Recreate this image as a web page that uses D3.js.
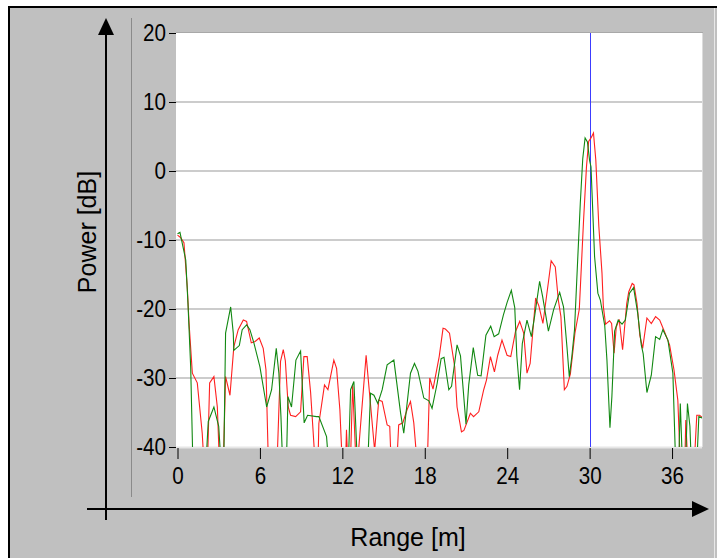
<!DOCTYPE html>
<html>
<head>
<meta charset="utf-8">
<script src="https://cdn.jsdelivr.net/npm/d3@7"></script>
<style>
  body { margin: 0; background: #ffffff; }
  svg { display: block; }
  text { font-family: Arial, "Liberation Sans", sans-serif; fill: #000; }
</style>
</head>
<body>
<div id="chart"></div>
<script>
// Range [m] ticks and Power [dB] ticks
var xTicks = [0, 6, 12, 18, 24, 30, 36]
var yTicks = [20, 10, 0, -10, -20, -30, -40]
var markerRange = 30

// green trace, [range m, power dB] (values below -40 are clipped off the plot)
var greenTrace = [
  [0, -9.1], [0.18, -8.9], [0.6, -12.9], [0.76, -19.1], [0.96, -28.4], [1.15, -45], [2.0, -45],
  [2.24, -36.3], [2.65, -34.2], [3.0, -37], [3.25, -45], [3.35, -45], [3.5, -23.5], [3.87, -19.7],
  [4.06, -23.5], [4.1, -26], [4.5, -25.3], [4.71, -23], [5.03, -22.3], [5.27, -23], [5.56, -24.9],
  [6.0, -28.4], [6.49, -34.2], [6.85, -31.7], [7.19, -25.7], [7.38, -29.3], [7.53, -35.6], [7.7, -45],
  [7.9, -45], [8.04, -32.7], [8.3, -34.2], [8.62, -27.4], [8.96, -26.1], [9.22, -36.5], [9.47, -35.4],
  [10.12, -35.6], [10.29, -35.6], [10.85, -38.5], [11.1, -45], [12.4, -45], [12.6, -31.7], [12.84, -30.5],
  [13.15, -45], [13.8, -45], [14.05, -32.2], [14.3, -32.5], [14.58, -33.7], [14.9, -31.7], [15.26, -28.1],
  [15.75, -27.4], [16.24, -35.1], [16.47, -38], [16.96, -29.3], [17.25, -27.9], [17.5, -29], [17.93, -32.9],
  [18.3, -33.3], [18.53, -34.4], [18.9, -30.8], [19.19, -27.2], [19.4, -27], [19.75, -31.7], [19.95, -31.2],
  [20.35, -25.2], [20.6, -26.8], [21.0, -36.7], [21.2, -31], [21.53, -25.6], [21.85, -29.6], [22.1, -29.7],
  [22.45, -23.8], [22.8, -22.5], [23.05, -24], [23.38, -23.6], [23.72, -20.9], [24.0, -19], [24.3, -17.3],
  [24.55, -19.8], [24.7, -26.8], [24.9, -31.7], [25.1, -25], [25.44, -21.6], [25.76, -24], [26.0, -21],
  [26.36, -16], [26.58, -18.2], [27.0, -23.2], [27.38, -20.1], [27.82, -17.6], [28.1, -19.7], [28.35, -25.5],
  [28.52, -29.8], [28.7, -27], [28.9, -23], [29.13, -12.9], [29.32, -4.7], [29.5, 1.8], [29.67, 4.8],
  [29.84, 4.2], [30.0, 1.5], [30.1, 0.6], [30.36, -12.4], [30.6, -17.7], [30.78, -18.7], [31.1, -22.4],
  [31.26, -27.4], [31.48, -37.2], [31.62, -32.7], [31.82, -23.2], [32.08, -21.6], [32.36, -22.2], [32.6, -21.6],
  [32.9, -17.7], [33.2, -16.9], [33.5, -20.6], [33.76, -25.2], [33.9, -26.5], [34.17, -32.1], [34.49, -29.6],
  [34.8, -24], [35.1, -24.4], [35.33, -23], [35.7, -24.5], [36.06, -29.3], [36.3, -45], [36.45, -45],
  [36.6, -33.7], [36.8, -45], [36.95, -45], [37.12, -33.7], [37.3, -37], [37.45, -45], [37.75, -45],
  [37.95, -35.6], [38.2, -35.8]
]

// red trace, [range m, power dB]
var redTrace = [
  [0, -9.3], [0.2, -9.6], [0.47, -10.4], [0.71, -16.8], [0.84, -22], [1.08, -29.3], [1.44, -30.7],
  [1.8, -38], [2.0, -45], [2.15, -45], [2.34, -30.7], [2.65, -29.8], [2.9, -34.2], [3.1, -45], [3.3, -45],
  [3.5, -29.8], [3.82, -32.5], [4.1, -25.5], [4.42, -23], [4.79, -21.6], [5.03, -21.8], [5.37, -24.9],
  [5.65, -24.7], [5.95, -24.2], [6.24, -25.7], [6.44, -28.8], [6.65, -45], [7.2, -45], [7.5, -27.6],
  [7.7, -25.9], [7.85, -27.5], [8.06, -34.2], [8.23, -35.4], [8.6, -35.6], [8.96, -34.9], [9.2, -26.9],
  [9.44, -26.9], [9.69, -32.1], [9.88, -38], [10.1, -45], [10.2, -45], [10.29, -36.6], [10.7, -31],
  [10.95, -31.7], [11.38, -27.4], [11.58, -28.6], [11.82, -34.6], [12.05, -45], [12.2, -45], [12.3, -37.5],
  [12.45, -45], [12.55, -45], [12.75, -31], [13.05, -45], [13.2, -40], [13.73, -26.7], [14.35, -40.5],
  [14.65, -33.2], [14.9, -33.4], [15.26, -36.8], [15.45, -37], [15.6, -45], [15.9, -45], [16.1, -36.8],
  [16.4, -36.5], [16.71, -34.6], [16.96, -33.4], [17.2, -36.5], [17.55, -45], [18.15, -45], [18.36, -30],
  [18.6, -31.6], [19.05, -26.9], [19.33, -22.8], [19.5, -22.9], [19.8, -23.5], [20.18, -28.4], [20.35, -34.2],
  [20.67, -37.8], [20.85, -37.6], [21.32, -35.1], [21.55, -35.6], [21.93, -34.9], [22.29, -31.7], [22.49, -30.3],
  [22.78, -26.9], [23.07, -29.1], [23.31, -26.7], [23.62, -24.5], [23.99, -26.7], [24.26, -26.9], [24.6, -23.3],
  [24.91, -21.8], [25.2, -23.5], [25.44, -29.3], [25.67, -27.9], [26.07, -18.4], [26.3, -19.5], [26.6, -22.1],
  [27.02, -15.8], [27.2, -13], [27.5, -13.9], [27.72, -18.7], [27.91, -21.1], [28.16, -31.7], [28.35, -31.2],
  [28.6, -29.4], [28.93, -23.5], [29.25, -20], [29.56, -7.1], [29.77, 0.6], [29.93, 4.3], [30.1, 4.8],
  [30.28, 5.5], [30.45, 1.6], [30.67, -8], [30.9, -14.8], [31.0, -19.7], [31.16, -22.2], [31.45, -21.7],
  [31.6, -22.1], [31.78, -26.4], [31.94, -22.6], [32.15, -21.5], [32.4, -25.9], [32.7, -19.2], [32.85, -17.5],
  [33.1, -16.3], [33.23, -16.5], [33.45, -19.2], [33.65, -23.8], [33.86, -25.7], [34.17, -21.3], [34.49, -22.1],
  [34.8, -21.1], [35.1, -21.6], [35.45, -23.3], [35.82, -25.2], [36.14, -28.8], [36.42, -33.2], [36.65, -45],
  [36.9, -45], [37.0, -36.1], [37.2, -45], [37.55, -45], [37.8, -35.4], [38.0, -35.4], [38.2, -35.7]
]

var W = 717, H = 558
var plot = { left: 176, right: 702, top: 33, bottom: 447 }
var narrow = 0.86   // tick font is a condensed face

var svg = d3.select("#chart").append("svg")
  .attr("width", W)
  .attr("height", H)

// window frame
svg.append("rect")
  .attr("x", 9).attr("y", 8)
  .attr("width", W - 9).attr("height", H - 8)
  .attr("fill", "#c0c0c0")
svg.append("line").attr("x1", 8).attr("x2", W).attr("y1", 7).attr("y2", 7)
  .attr("stroke", "#000").attr("stroke-width", 2)
svg.append("line").attr("x1", 9).attr("x2", 9).attr("y1", 6).attr("y2", H)
  .attr("stroke", "#000").attr("stroke-width", 2)
svg.append("line").attr("x1", 714.5).attr("x2", 714.5).attr("y1", 8).attr("y2", H)
  .attr("stroke", "#e8e8e8").attr("stroke-width", 1)

var x = d3.scaleLinear()
  .domain([0, 38.18])
  .range([177.5, plot.right])

var y = d3.scaleLinear()
  .domain([-40, 20])
  .range([plot.bottom, plot.top])

// plot background
svg.append("rect")
  .attr("x", plot.left).attr("y", plot.top)
  .attr("width", plot.right - plot.left).attr("height", plot.bottom - plot.top)
  .attr("fill", "#fff")
svg.append("line").attr("x1", plot.left).attr("x2", plot.right + 1)
  .attr("y1", plot.top - 0.5).attr("y2", plot.top - 0.5)
  .attr("stroke", "#a8a8a8")
svg.append("line").attr("x1", plot.right + 0.5).attr("x2", plot.right + 0.5)
  .attr("y1", plot.top).attr("y2", plot.bottom)
  .attr("stroke", "#dcdcdc")

// grid
svg.append("g").selectAll("line")
  .data(yTicks.filter(function(d) { return d > -40 && d < 20 }))
  .enter().append("line")
  .attr("x1", plot.left).attr("x2", plot.right)
  .attr("y1", function(d) { return y(d) }).attr("y2", function(d) { return y(d) })
  .attr("stroke", "#cccccc").attr("stroke-width", 2)
svg.append("line").attr("x1", plot.left).attr("x2", plot.right)
  .attr("y1", plot.bottom + 0.5).attr("y2", plot.bottom + 0.5)
  .attr("stroke", "#e6e6e6").attr("stroke-width", 2)

// clip for traces
svg.append("clipPath").attr("id", "clip")
  .append("rect")
  .attr("x", plot.left).attr("y", plot.top)
  .attr("width", plot.right - plot.left).attr("height", plot.bottom - plot.top)

var line = d3.line()
  .x(function(d) { return x(d[0]) })
  .y(function(d) { return y(d[1]) })

var traces = svg.append("g").attr("clip-path", "url(#clip)")

// marker line, snapped to the pixel grid
var markerX = Math.round(x(markerRange)) + 0.5
traces.append("line")
  .attr("x1", markerX).attr("x2", markerX)
  .attr("y1", plot.top).attr("y2", plot.bottom)
  .attr("stroke", "#3c3cff").attr("stroke-width", 1)

traces.append("path")
  .datum(redTrace)
  .attr("d", line)
  .attr("fill", "none")
  .attr("stroke", "#ff2020")
  .attr("stroke-width", 1.1)

traces.append("path")
  .datum(greenTrace)
  .attr("d", line)
  .attr("fill", "none")
  .attr("stroke", "#118811")
  .attr("stroke-width", 1.1)

var plainFormat = function(d) { return String(d) }

// Y axis
var yAxis = svg.append("g")
  .attr("transform", "translate(" + plot.left + ",0)")
  .call(d3.axisLeft(y).tickValues(yTicks).tickSize(7).tickPadding(3).tickFormat(plainFormat))
yAxis.select(".domain").remove()
yAxis.selectAll("text")
  .style("font-size", "24px")
  .style("font-family", "Arial, 'Liberation Sans', sans-serif")
  .attr("fill", "#000")
  .attr("x", -10 / narrow)
  .attr("transform", "scale(" + narrow + ",1)")
yAxis.selectAll("line").attr("stroke", "#000")

// X axis
var xAxis = svg.append("g")
  .attr("transform", "translate(0," + (plot.bottom + 1) + ")")
  .call(d3.axisBottom(x).tickValues(xTicks).tickSize(11).tickPadding(8).tickFormat(plainFormat))
xAxis.select(".domain").remove()
xAxis.selectAll("text")
  .style("font-size", "24px")
  .style("font-family", "Arial, 'Liberation Sans', sans-serif")
  .attr("fill", "#000")
  .attr("transform", "scale(" + narrow + ",1)")
xAxis.selectAll("line").attr("stroke", "#000")

// decorative axes with arrows
svg.append("line").attr("x1", 131.5).attr("x2", 131.5).attr("y1", 18).attr("y2", 497)
  .attr("stroke", "#8a8a8a").attr("stroke-width", 1)

svg.append("line").attr("x1", 106).attr("x2", 106).attr("y1", 30).attr("y2", 520)
  .attr("stroke", "#000").attr("stroke-width", 2)
svg.append("path").attr("d", "M106,18 L98,35 L114,35 Z").attr("fill", "#000")

svg.append("line").attr("x1", 87).attr("x2", 695).attr("y1", 509).attr("y2", 509)
  .attr("stroke", "#000").attr("stroke-width", 2)
svg.append("path").attr("d", "M709,509 L692,501 L692,517 Z").attr("fill", "#000")

// titles
svg.append("text")
  .attr("transform", "translate(96,232) rotate(-90)")
  .attr("text-anchor", "middle")
  .style("font-size", "25px")
  .text("Power [dB]")

svg.append("text")
  .attr("x", 408).attr("y", 546)
  .attr("text-anchor", "middle")
  .style("font-size", "25px")
  .text("Range [m]")
</script>
</body>
</html>
